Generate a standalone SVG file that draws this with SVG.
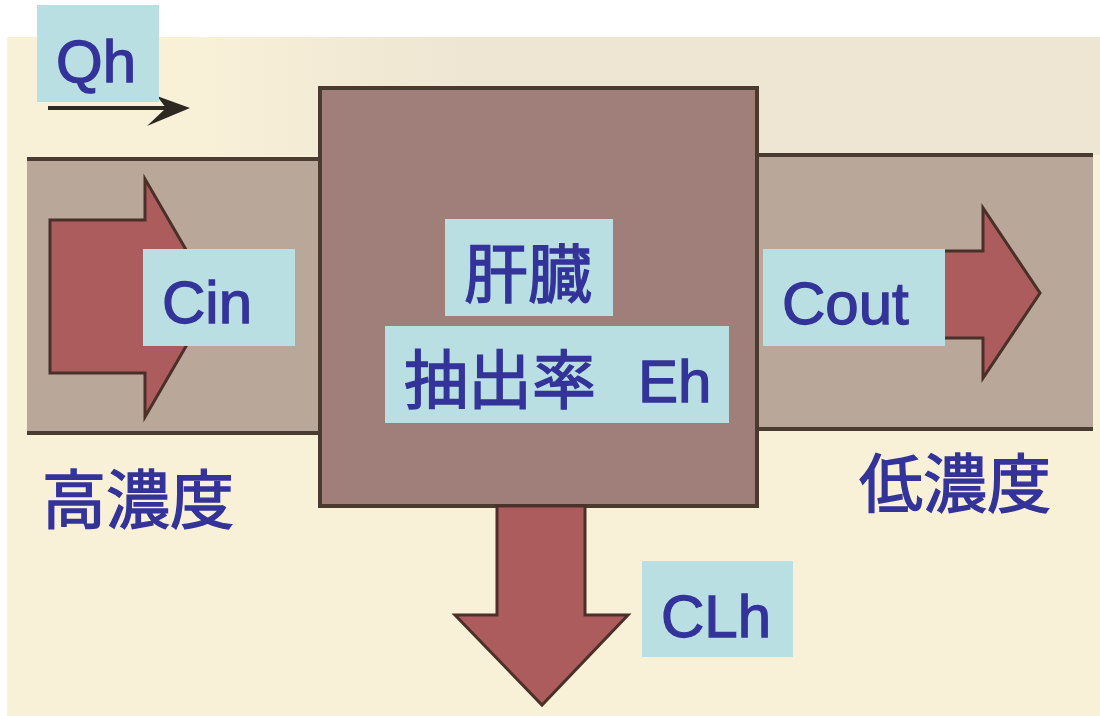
<svg xmlns="http://www.w3.org/2000/svg" width="1100" height="716" viewBox="0 0 1100 716">
<defs>
<style>
.lbl{fill:#b9dfe2}
.lat{font-family:"Liberation Sans",Arial,sans-serif;font-size:60px;fill:#333399;stroke:#333399;stroke-width:1.3}
.cjk{font-family:"Noto Sans CJK JP","Noto Sans CJK SC",sans-serif;font-size:64px;fill:#333399;stroke:#333399;stroke-width:1.4}
.red{fill:#ad5c5e;stroke:#4a3028;stroke-width:3;stroke-linejoin:miter}
.pipe{fill:#b9a79a}
.pline{stroke:#4a3c30;stroke-width:4}
</style>
<linearGradient id="topShade" x1="0" y1="0" x2="1" y2="0">
<stop offset="0" stop-color="#ebe2d1" stop-opacity="0"/>
<stop offset="0.3" stop-color="#ebe2d1" stop-opacity="0.8"/>
<stop offset="1" stop-color="#ebe2d1" stop-opacity="0.8"/>
</linearGradient>
</defs>
<rect x="0" y="0" width="1100" height="716" fill="#ffffff"/>
<rect x="7" y="37" width="1093" height="679" fill="#f9f0d8"/>
<rect x="200" y="37" width="900" height="118" fill="url(#topShade)"/>

<g id="pipe-left">
<rect class="pipe" x="27" y="159" width="295" height="274"/>
<line class="pline" x1="27" y1="159" x2="322" y2="159"/>
<line class="pline" x1="27" y1="433" x2="322" y2="433"/>
</g>
<g id="pipe-right">
<rect class="pipe" x="755" y="155" width="338" height="274"/>
<line class="pline" x1="755" y1="155" x2="1093" y2="155"/>
<line class="pline" x1="755" y1="429" x2="1093" y2="429"/>
</g>

<g id="liver">
<rect x="320" y="88" width="437" height="418" fill="#a07e79" stroke="#4a3a30" stroke-width="4"/>
</g>

<g id="connectors">
<g id="qh-arrow">
<line x1="48" y1="108" x2="172" y2="108" stroke="#2e2823" stroke-width="4"/>
<path d="M190,108 L157,96 L166,108 L147,126 Z" fill="#2e2823"/>
</g>
<path id="in-arrow" class="red" d="M50,220 L145,220 L145,179 L214,298 L145,417 L145,373 L50,373 Z"/>
<path id="out-arrow" class="red" d="M905,251 L983,251 L983,208 L1040,293 L983,378 L983,338 L905,338 Z"/>
<path id="clh-arrow" class="red" d="M497,506 L585,506 L585,615 L628,615 L542,705 L455,615 L497,615 Z"/>
</g>

<g id="label-qh">
<rect class="lbl" x="37" y="5" width="122" height="97"/>
<text class="lat" x="56" y="82">Qh</text>
</g>
<g id="label-cin">
<rect class="lbl" x="143" y="249" width="152" height="97"/>
<text class="lat" x="162" y="323">Cin</text>
</g>
<g id="label-cout">
<rect class="lbl" x="763" y="249" width="182" height="97"/>
<text class="lat" x="782" y="324">Cout</text>
</g>
<g id="label-liver">
<rect class="lbl" x="445" y="219" width="168" height="97"/>
<text class="cjk" x="464" y="297">肝臓</text>
</g>
<g id="label-eh">
<rect class="lbl" x="385" y="326" width="344" height="97"/>
<text class="cjk" x="404" y="403">抽出率</text>
<text class="lat" x="638" y="402">Eh</text>
</g>
<g id="label-clh">
<rect class="lbl" x="642" y="561" width="151" height="96"/>
<text class="lat" x="661" y="637">CLh</text>
</g>
<g id="label-high">
<text class="cjk" x="42" y="523">高濃度</text>
</g>
<g id="label-low">
<text class="cjk" x="859" y="507">低濃度</text>
</g>
</svg>
